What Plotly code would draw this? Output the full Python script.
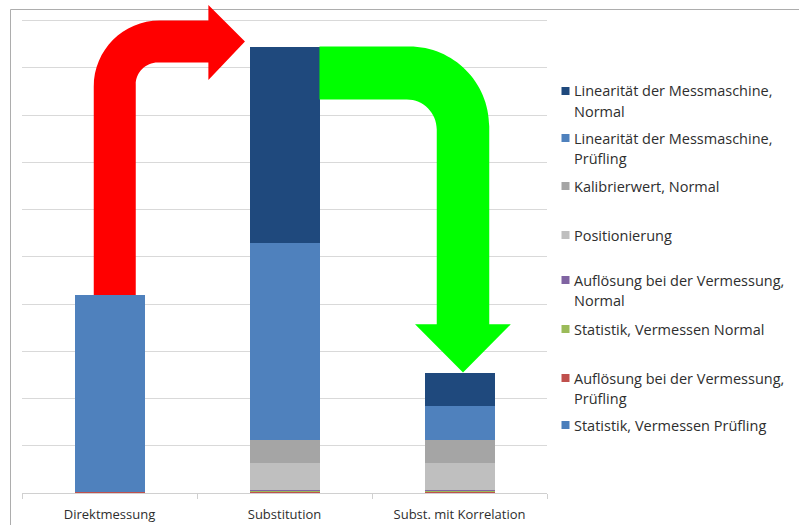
import plotly.graph_objects as go

# ---------------- data ----------------
categories = ["Direktmessung", "Substitution", "Subst. mit Korrelation"]

# stacked from bottom to top
stat_pruefling = [0.01, 0.01, 0.01]      # Statistik, Vermessen Prüfling
aufl_pruefling = [0.02, 0.02, 0.02]      # Auflösung bei der Vermessung, Prüfling
stat_normal = [0.00, 0.03, 0.03]         # Statistik, Vermessen Normal
aufl_normal = [0.00, 0.01, 0.01]         # Auflösung bei der Vermessung, Normal
positionierung = [0.00, 0.56, 0.56]      # Positionierung
kalibrierwert = [0.00, 0.50, 0.50]       # Kalibrierwert, Normal
lin_pruefling = [4.16, 4.16, 0.71]       # Linearität der Messmaschine, Prüfling
lin_normal = [0.00, 4.16, 0.71]          # Linearität der Messmaschine, Normal

series_values = [stat_pruefling, aufl_pruefling, stat_normal, aufl_normal,
                 positionierung, kalibrierwert, lin_pruefling, lin_normal]
series_labels = [
    ["Statistik, Vermessen Prüfling"],
    ["Auflösung bei der Vermessung,", "Prüfling"],
    ["Statistik, Vermessen Normal"],
    ["Auflösung bei der Vermessung,", "Normal"],
    ["Positionierung"],
    ["Kalibrierwert, Normal"],
    ["Linearität der Messmaschine,", "Prüfling"],
    ["Linearität der Messmaschine,", "Normal"],
]
series_colors = ["#4A7EBB", "#C0504D", "#9BBB59", "#8064A2",
                 "#BFBFBF", "#A5A5A5", "#4F81BD", "#1F497D"]

# ---------------- layout geometry ----------------
W, H = 799, 525
ML, MR, MT, MB = 22, 252, 4, 32
PW, PH = W - ML - MR, H - MT - MB
Y_MAX = 10.35
TEXT_COLOR = "#2E2E2E"
FONT = "Open Sans"


def px2paper_x(px):
    return (px - ML) / PW


def py2paper_y(py):
    return (H - MB - py) / PH


fig = go.Figure()
for name, vals, col in zip(series_labels, series_values, series_colors):
    fig.add_trace(go.Bar(
        x=categories, y=vals, name=" ".join(name),
        marker=dict(color=col, line=dict(width=0)),
        width=0.4, showlegend=False,
    ))

totals = [sum(v[i] for v in series_values) for i in range(len(categories))]

K = 0.5523  # bezier circle constant

# ---------------- red arrow (Direktmessung -> Substitution) ----------------
xL, xR = -0.09, 0.15           # shaft edges
yT, yB = 10.0, 9.11            # horizontal band
rxo, ryo = 0.377, 1.40         # outer radius
rxi, ryi = 0.126, 0.467        # inner radius
xh, yht, yhb = 0.565, 10.33, 8.74
xtip, ytip = 0.774, (yT + yB) / 2
y0 = totals[0]
red_path = (
    f"M {xL},{y0} L {xL},{yT - ryo} "
    f"C {xL},{yT - ryo * (1 - K)} {xL + rxo * (1 - K)},{yT} {xL + rxo},{yT} "
    f"L {xh},{yT} L {xh},{yht} L {xtip},{ytip} L {xh},{yhb} L {xh},{yB} "
    f"L {xR + rxi},{yB} "
    f"C {xR + rxi * (1 - K)},{yB} {xR},{yB - ryi * (1 - K)} {xR},{yB - ryi} "
    f"L {xR},{y0} Z"
)

# ---------------- green arrow (Substitution -> Korrelation) ----------------
gx0 = 1.2
gyT, gyB = totals[1], totals[1] - 1.12
gxL, gxR = 1.87, 2.17
grxo, gryo = 0.457, 1.69
grxi, gryi = 0.171, 0.635
gyh, gxhl, gxhr = 3.57, 1.746, 2.293
gxtip, gytip = 2.02, totals[2]
green_path = (
    f"M {gx0},{gyT} L {gxR - grxo},{gyT} "
    f"C {gxR - grxo * (1 - K)},{gyT} {gxR},{gyT - gryo * (1 - K)} {gxR},{gyT - gryo} "
    f"L {gxR},{gyh} L {gxhr},{gyh} L {gxtip},{gytip} L {gxhl},{gyh} L {gxL},{gyh} "
    f"L {gxL},{gyB - gryi} "
    f"C {gxL},{gyB - gryi * (1 - K)} {gxL - grxi * (1 - K)},{gyB} {gxL - grxi},{gyB} "
    f"L {gx0},{gyB} Z"
)

shapes = [
    dict(type="path", xref="x", yref="y", path=red_path,
         fillcolor="#FF0000", line=dict(width=0), layer="above"),
    dict(type="path", xref="x", yref="y", path=green_path,
         fillcolor="#00FF00", line=dict(width=0), layer="above"),
    # outer chart border
    dict(type="rect", xref="paper", yref="paper",
         x0=px2paper_x(10.5), y0=py2paper_y(560), x1=px2paper_x(830), y1=py2paper_y(9.5),
         line=dict(color="#ADADAD", width=1), fillcolor="rgba(0,0,0,0)", layer="below"),
]

# ---------------- manual legend ----------------
legend_first_line_y = [91, 138, 186, 235, 280, 329, 378, 425]  # px, top to bottom
line_gap = 20
annotations = []
legend_order = list(range(len(series_labels)))[::-1]
for slot, idx in enumerate(legend_order):
    yc = legend_first_line_y[slot]
    shapes.append(dict(
        type="rect", xref="paper", yref="paper",
        x0=px2paper_x(561.5), x1=px2paper_x(569.5),
        y0=py2paper_y(yc + 4), y1=py2paper_y(yc - 4),
        fillcolor=series_colors[idx], line=dict(width=0),
    ))
    for j, line in enumerate(series_labels[idx]):
        annotations.append(dict(
            xref="paper", yref="paper", x=px2paper_x(572), y=py2paper_y(yc + j * line_gap),
            xanchor="left", yanchor="middle", text=line, showarrow=False,
            font=dict(family=FONT, size=14.5, color=TEXT_COLOR),
        ))

fig.update_layout(
    width=W, height=H,
    margin=dict(l=ML, r=MR, t=MT, b=MB),
    paper_bgcolor="white", plot_bgcolor="white",
    barmode="stack", bargap=0.6,
    font=dict(family=FONT, size=13, color=TEXT_COLOR),
    shapes=shapes, annotations=annotations,
    xaxis=dict(
        type="category", range=[-0.5, 2.5], automargin=False,
        showline=True, linecolor="#D0D0D0", linewidth=1,
        ticks="outside", tickson="boundaries", ticklen=5, tickcolor="#D0D0D0",
        showgrid=False, ticklabelstandoff=9,
        tickfont=dict(family=FONT, size=13, color=TEXT_COLOR),
    ),
    yaxis=dict(
        range=[0, Y_MAX], dtick=1, tick0=0, automargin=False,
        showgrid=True, gridcolor="#D9D9D9", gridwidth=1,
        showticklabels=False, zeroline=False, showline=False, ticks="",
    ),
)

fig.write_html("out.html")
